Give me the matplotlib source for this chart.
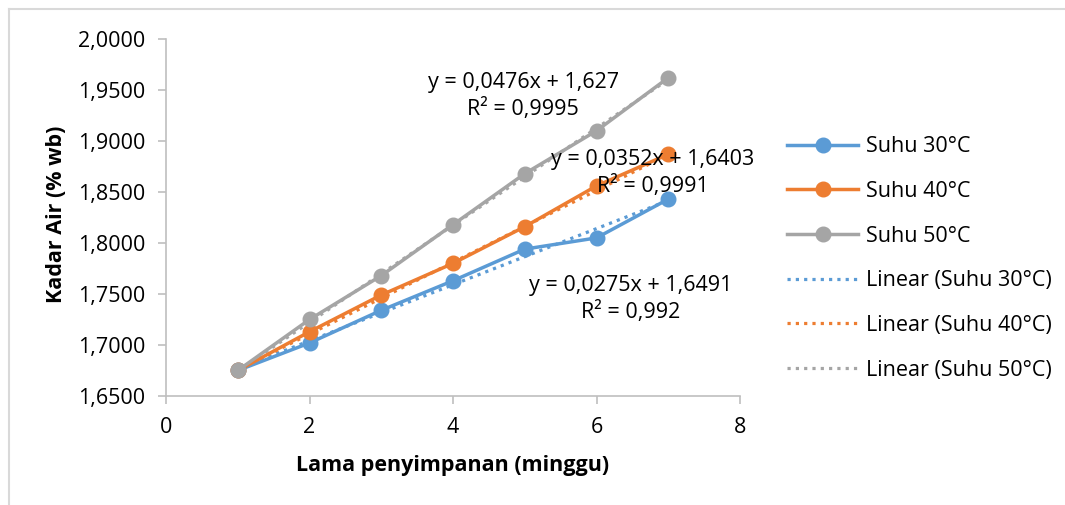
import numpy as np
import matplotlib
matplotlib.use('Agg')
import matplotlib.pyplot as plt
from matplotlib.lines import Line2D
from matplotlib.ticker import FuncFormatter

plt.rcParams['font.family'] = ['Open Sans', 'DejaVu Sans']

# data
weeks = [1, 2, 3, 4, 5, 6, 7]
suhu30 = [1.675, 1.702, 1.734, 1.763, 1.794, 1.805, 1.843]
suhu40 = [1.675, 1.713, 1.749, 1.780, 1.816, 1.856, 1.887]
suhu50 = [1.675, 1.725, 1.768, 1.818, 1.868, 1.910, 1.962]
names = ['Suhu 30°C', 'Suhu 40°C', 'Suhu 50°C']
# trendline equations shown on the chart
slopes = [0.0275, 0.0352, 0.0476]
intercepts = [1.6491, 1.6403, 1.627]
r2 = ['0,992', '0,9991', '0,9995']
eq_text = ['y = 0,0275x + 1,6491', 'y = 0,0352x + 1,6403', 'y = 0,0476x + 1,627']

colors = ['#5B9BD5', '#ED7D31', '#A5A5A5']
label_pos = [(6.47, 1.7455), (6.78, 1.8685), (4.98, 1.944)]
fs = 15.5

fig = plt.figure(figsize=(10.65, 5.05), dpi=100)
ax = fig.add_axes([166/1065, 1-396/505, (740-166)/1065, (396-39)/505])

series = [suhu30, suhu40, suhu50]
handles = []
for vals, c, n in zip(series, colors, names):
    h, = ax.plot(weeks, vals, color=c, lw=2.5, marker='o', ms=10.5,
                 label=n, zorder=3)
    handles.append(h)

xs = np.array([weeks[0], weeks[-1]])
for m, b, c, n in zip(slopes, intercepts, colors, names):
    h, = ax.plot(xs, m*xs + b, color=c, lw=2.3, ls=(0, (1, 1.6)),
                 label='Linear (' + n + ')', zorder=2)
    handles.append(h)

for (tx, ty), e, r in zip(label_pos, eq_text, r2):
    ax.text(tx, ty, e + '\nR² = ' + r, ha='center', va='center',
            fontsize=fs, linespacing=1.3, zorder=5)

ax.set_xlim(0, 8)
ax.set_ylim(1.65, 2.0)
ax.set_xticks([0, 2, 4, 6, 8])
ax.set_yticks(np.arange(1.65, 2.0001, 0.05))
ax.yaxis.set_major_formatter(FuncFormatter(lambda v, p: ('%.4f' % v).replace('.', ',')))

for s in ['top', 'right']:
    ax.spines[s].set_visible(False)
for s in ['left', 'bottom']:
    ax.spines[s].set_color('#BFBFBF')
    ax.spines[s].set_linewidth(1.2)
ax.tick_params(axis='both', colors='#BFBFBF', labelcolor='black',
               labelsize=fs, length=6, width=1.2)
ax.tick_params(axis='x', pad=9)
ax.tick_params(axis='y', pad=9)

ax.set_xlabel('Lama penyimpanan (minggu)', fontsize=fs, fontweight='bold', labelpad=12)
ax.set_ylabel('Kadar Air (% wb)', fontsize=fs, fontweight='bold')
ax.yaxis.set_label_coords((67 - 166) / 574, 0.51)

fig.legend(handles=handles, loc='center left',
           bbox_to_anchor=(787/1065, 1-258.5/505), frameon=False,
           fontsize=fs, handlelength=3.3, handletextpad=0.35,
           labelspacing=1.1, borderpad=0, borderaxespad=0)

# chart area border (top and left visible)
fig.add_artist(Line2D([8.5/1065, 1], [1-8.5/505, 1-8.5/505],
                      transform=fig.transFigure, color='#D9D9D9', lw=1.5))
fig.add_artist(Line2D([8.5/1065, 8.5/1065], [0, 1-8.5/505],
                      transform=fig.transFigure, color='#D9D9D9', lw=1.5))

fig.savefig('out.png', dpi=100)
